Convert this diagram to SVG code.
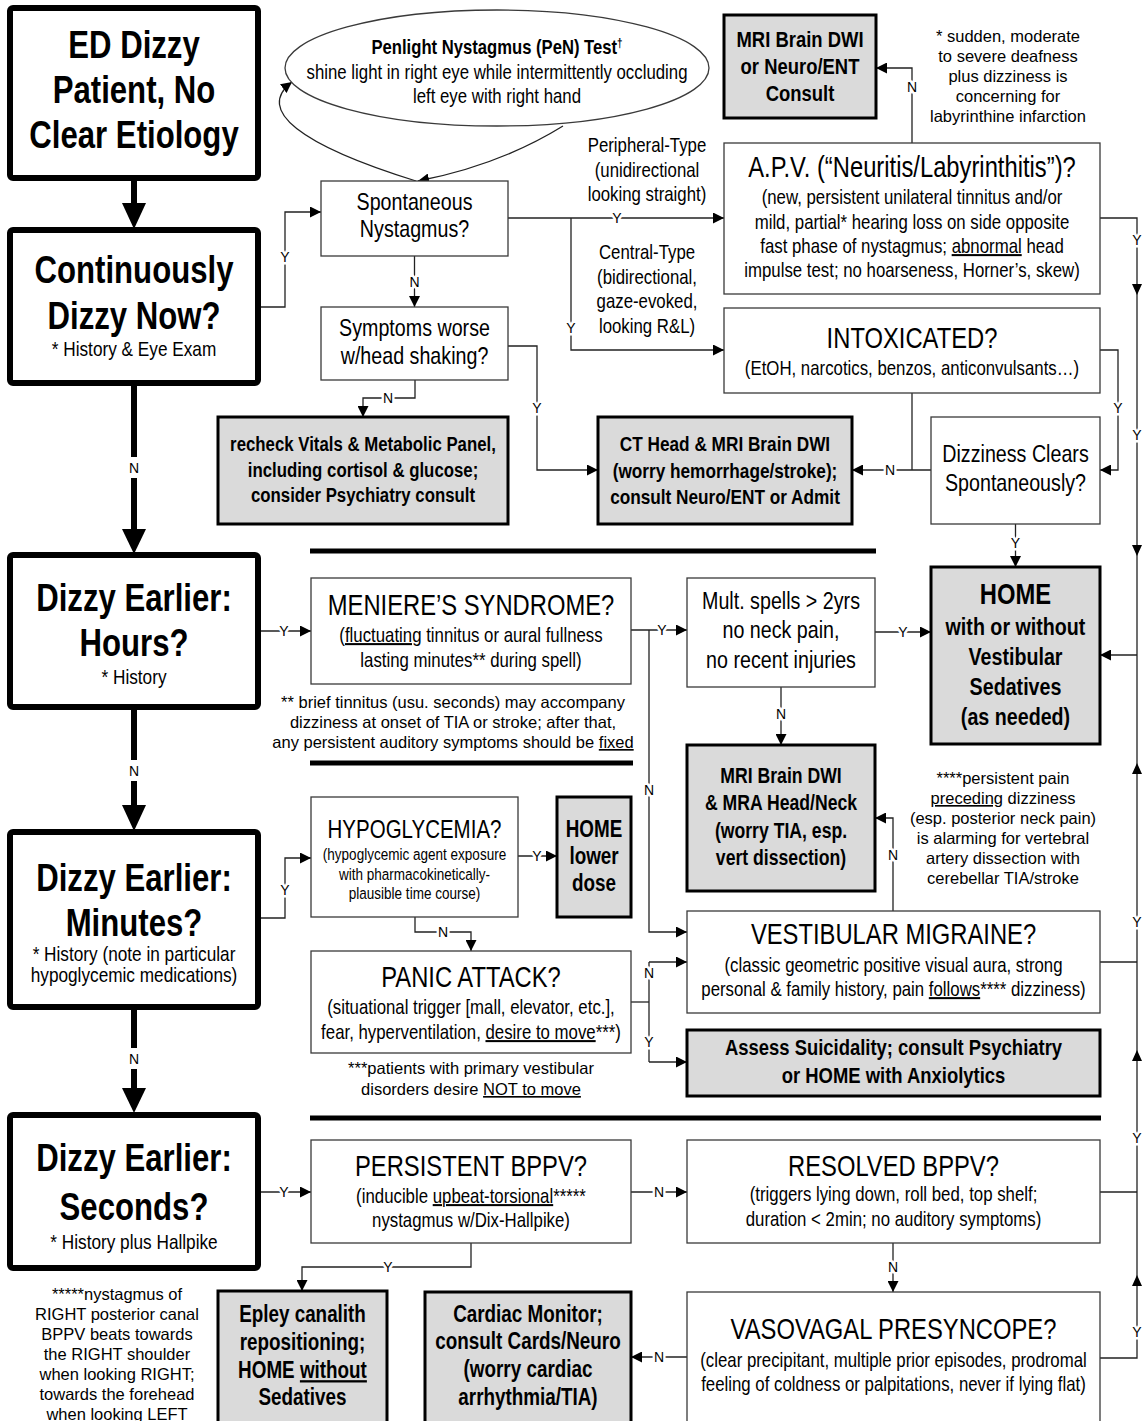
<svg xmlns="http://www.w3.org/2000/svg" width="1144" height="1421" viewBox="0 0 1144 1421">
<defs>
<style>
text{font-family:"Liberation Sans",Arial,sans-serif;text-anchor:middle;fill:#000}
.b{font-weight:bold}
.note{font-size:16.5px}
.big{font-size:38px;font-weight:bold}
.sub{font-size:21px}
.ttl{font-size:29px}
.body{font-size:20.5px}
.q{font-size:24px}
.lbl{font-size:14px;paint-order:stroke;stroke:#fff;stroke-width:5px;stroke-linejoin:round}
.thick{fill:#fff;stroke:#000;stroke-width:6}
.box{fill:#fff;stroke:#3a3a3a;stroke-width:1.3}
.gbox{fill:#dadada;stroke:#000;stroke-width:3}
.ln{fill:none;stroke:#222;stroke-width:1.3}
.ar{fill:none;stroke:#222;stroke-width:1.3;marker-end:url(#ah)}
.hr{stroke:#000;stroke-width:5}
.tk{stroke:#000;stroke-width:6}
</style>
<marker id="ah" viewBox="0 0 10 10" refX="10" refY="5" markerWidth="11" markerHeight="11" markerUnits="userSpaceOnUse" orient="auto"><path d="M0,0 L10,5 L0,10 z" fill="#000"/></marker>
</defs>
<rect width="1144" height="1421" fill="#fff"/>

<g id="dividers">
<line class="hr" x1="310" y1="551" x2="876" y2="551"/>
<line class="hr" x1="310" y1="763" x2="633" y2="763"/>
<line class="hr" x1="310" y1="1118" x2="1101" y2="1118"/>
</g>

<g id="connectors">
<line class="tk" x1="134" y1="178" x2="134" y2="206"/>
<polygon points="122,203 146,203 134,229"/>
<line class="tk" x1="134" y1="383" x2="134" y2="532"/>
<polygon points="122,529 146,529 134,554"/>
<rect x="125" y="457" width="18" height="21" fill="#fff"/>
<text class="lbl" x="134" y="473">N</text>
<line class="tk" x1="134" y1="707" x2="134" y2="808"/>
<polygon points="122,805 146,805 134,831"/>
<rect x="125" y="760" width="18" height="21" fill="#fff"/>
<text class="lbl" x="134" y="776">N</text>
<line class="tk" x1="134" y1="1007" x2="134" y2="1091"/>
<polygon points="122,1088 146,1088 134,1113"/>
<rect x="125" y="1048" width="18" height="21" fill="#fff"/>
<text class="lbl" x="134" y="1064">N</text>

<path class="ar" d="M416,181 C300,145 255,110 292,82"/>
<path class="ar" d="M563,126 Q500,165 418,181"/>

<path class="ar" d="M258,307 H285 V212 H321"/>
<text class="lbl" x="285" y="262">Y</text>
<path class="ar" d="M508,218 H724"/>
<text class="lbl" x="617" y="223">Y</text>
<path class="ar" d="M571,218 V350 H724"/>
<text class="lbl" x="571" y="333">Y</text>
<path class="ar" d="M414.5,256 V307"/>
<text class="lbl" x="414.5" y="287">N</text>
<path class="ar" d="M508,346 H537 V470 H598"/>
<text class="lbl" x="537" y="413">Y</text>
<path class="ar" d="M415,380 V398 H363 V417"/>
<text class="lbl" x="388" y="403">N</text>
<path class="ar" d="M912,143 V68 H876"/>
<text class="lbl" x="912" y="92">N</text>
<path class="ln" d="M912,393 V470"/>
<path class="ar" d="M931,470 H852"/>
<text class="lbl" x="890" y="475">N</text>
<path class="ar" d="M1100,350 H1118 V470 H1100"/>
<text class="lbl" x="1118" y="413">Y</text>
<path class="ar" d="M1015.5,524 V567"/>
<text class="lbl" x="1015.5" y="548">Y</text>
<path class="ln" d="M1100,218 H1137 V1358 H1100"/>
<path class="ln" d="M1100,962 H1137"/>
<path class="ln" d="M1100,1192 H1137"/>
<path class="ar" d="M1137,655 H1100"/>
<polygon points="1132,284 1142,284 1137,295"/>
<polygon points="1132,545 1142,545 1137,556"/>
<polygon points="1132,774 1142,774 1137,763"/>
<polygon points="1132,1061 1142,1061 1137,1050"/>
<polygon points="1132,1286 1142,1286 1137,1275"/>
<text class="lbl" x="1137" y="245">Y</text>
<text class="lbl" x="1137" y="440">Y</text>
<text class="lbl" x="1137" y="927">Y</text>
<text class="lbl" x="1137" y="1143">Y</text>
<text class="lbl" x="1137" y="1337">Y</text>
<path class="ar" d="M258,631 H311"/>
<text class="lbl" x="284" y="636">Y</text>
<path class="ar" d="M631,630 H687"/>
<text class="lbl" x="662" y="635">Y</text>
<path class="ar" d="M649,630 V932 H687"/>
<text class="lbl" x="649" y="795">N</text>
<path class="ar" d="M875,632 H931"/>
<text class="lbl" x="903" y="637">Y</text>
<path class="ar" d="M781,687 V745"/>
<text class="lbl" x="781" y="719">N</text>
<path class="ar" d="M893,911 V818 H875"/>
<text class="lbl" x="893" y="860">N</text>
<path class="ar" d="M258,918 H285 V858 H311"/>
<text class="lbl" x="285" y="895">Y</text>
<path class="ar" d="M518,856 H557"/>
<text class="lbl" x="537" y="861">Y</text>
<path class="ar" d="M415,917 V932 H471 V951"/>
<text class="lbl" x="443" y="937">N</text>
<path class="ln" d="M631,1002 H649"/>
<path class="ln" d="M649,962 V1062"/>
<path class="ar" d="M649,962 H687"/>
<path class="ar" d="M649,1062 H687"/>
<text class="lbl" x="649" y="978">N</text>
<text class="lbl" x="649" y="1047">Y</text>
<path class="ar" d="M258,1192 H311"/>
<text class="lbl" x="284" y="1197">Y</text>
<path class="ar" d="M631,1192 H687"/>
<text class="lbl" x="659" y="1197">N</text>
<path class="ar" d="M471,1243 V1267 H302 V1291"/>
<text class="lbl" x="388" y="1272">Y</text>
<path class="ar" d="M893,1243 V1292"/>
<text class="lbl" x="893" y="1272">N</text>
<path class="ar" d="M687,1357 H631"/>
<text class="lbl" x="659" y="1362">N</text>
</g>

<g id="n-start">
<rect class="thick" x="10" y="8" width="248" height="170" rx="3"/>
<g transform="translate(134 0) scale(.82 1)">
<text class="big" x="0" y="58">ED Dizzy</text>
<text class="big" x="0" y="103">Patient, No</text>
<text class="big" x="0" y="148">Clear Etiology</text>
</g></g>
<g id="n-continuous">
<rect class="thick" x="10" y="230" width="248" height="153" rx="3"/>
<g transform="translate(134 0) scale(.82 1)">
<text class="big" x="0" y="283">Continuously</text>
<text class="big" x="0" y="329">Dizzy Now?</text>
<text class="sub" x="0" y="356">* History &amp; Eye Exam</text>
</g></g>
<g id="n-hours">
<rect class="thick" x="10" y="555" width="248" height="152" rx="3"/>
<g transform="translate(134 0) scale(.82 1)">
<text class="big" x="0" y="611">Dizzy Earlier:</text>
<text class="big" x="0" y="656">Hours?</text>
<text class="sub" x="0" y="684">* History</text>
</g></g>
<g id="n-minutes">
<rect class="thick" x="10" y="832" width="248" height="175" rx="3"/>
<g transform="translate(134 0) scale(.82 1)">
<text class="big" x="0" y="891">Dizzy Earlier:</text>
<text class="big" x="0" y="936">Minutes?</text>
<text class="sub" x="0" y="961">* History (note in particular</text>
<text class="sub" x="0" y="982">hypoglycemic medications)</text>
</g></g>
<g id="n-seconds">
<rect class="thick" x="10" y="1115" width="248" height="153" rx="3"/>
<g transform="translate(134 0) scale(.82 1)">
<text class="big" x="0" y="1171">Dizzy Earlier:</text>
<text class="big" x="0" y="1220">Seconds?</text>
<text class="sub" x="0" y="1249">* History plus Hallpike</text>
</g></g>

<g id="n-pen">
<ellipse class="box" cx="497" cy="68" rx="212" ry="58"/>
<g transform="translate(497 0) scale(.82 1)">
<text class="b" x="0" y="54" font-size="20.3">Penlight Nystagmus (PeN) Test<tspan font-size="12" dy="-7">†</tspan></text>
<text class="body" x="0" y="79">shine light in right eye while intermittently occluding</text>
<text class="body" x="0" y="103">left eye with right hand</text>
</g></g>

<g id="n-spont">
<rect class="box" x="321" y="181" width="187" height="75"/>
<g transform="translate(414.5 0) scale(.82 1)">
<text class="q" x="0" y="210">Spontaneous</text>
<text class="q" x="0" y="237">Nystagmus?</text>
</g></g>

<g id="n-types">
<g transform="translate(647 0) scale(.82 1)">
<text class="body" x="0" y="152">Peripheral-Type</text>
<text class="body" x="0" y="177">(unidirectional</text>
<text class="body" x="0" y="201">looking straight)</text>
<text class="body" x="0" y="259">Central-Type</text>
<text class="body" x="0" y="284">(bidirectional,</text>
<text class="body" x="0" y="308">gaze-evoked,</text>
<text class="body" x="0" y="333">looking R&amp;L)</text>
</g></g>

<g id="n-mri1">
<rect class="gbox" x="724" y="15" width="152" height="103"/>
<g transform="translate(800 0) scale(.82 1)">
<text class="b" x="0" y="47" font-size="22.5">MRI Brain DWI</text>
<text class="b" x="0" y="74" font-size="22.5">or Neuro/ENT</text>
<text class="b" x="0" y="101" font-size="22.5">Consult</text>
</g></g>

<g id="note-deaf">
<text class="note" x="1008" y="42">* sudden, moderate</text>
<text class="note" x="1008" y="62">to severe deafness</text>
<text class="note" x="1008" y="82">plus dizziness is</text>
<text class="note" x="1008" y="102">concerning for</text>
<text class="note" x="1008" y="122">labyrinthine infarction</text>
</g>

<g id="n-apv">
<rect class="box" x="724" y="143" width="376" height="151"/>
<g transform="translate(912 0) scale(.82 1)">
<text class="ttl" x="0" y="177">A.P.V. (“Neuritis/Labyrinthitis”)?</text>
<text class="body" x="0" y="204">(new, persistent unilateral tinnitus and/or</text>
<text class="body" x="0" y="229">mild, partial* hearing loss on side opposite</text>
<text class="body" x="0" y="253">fast phase of nystagmus; <tspan text-decoration="underline">abnormal</tspan> head</text>
<text class="body" x="0" y="277">impulse test; no hoarseness, Horner’s, skew)</text>
</g></g>

<g id="n-intox">
<rect class="box" x="724" y="308" width="376" height="85"/>
<g transform="translate(912 0) scale(.82 1)">
<text class="ttl" x="0" y="348">INTOXICATED?</text>
<text class="body" x="0" y="375">(EtOH, narcotics, benzos, anticonvulsants…)</text>
</g></g>

<g id="n-symptoms">
<rect class="box" x="321" y="307" width="187" height="73"/>
<g transform="translate(414.5 0) scale(.82 1)">
<text class="q" x="0" y="336">Symptoms worse</text>
<text class="q" x="0" y="364">w/head shaking?</text>
</g></g>

<g id="n-recheck">
<rect class="gbox" x="218" y="417" width="290" height="107"/>
<g transform="translate(363 0) scale(.82 1)">
<text class="b" x="0" y="451" font-size="20.5">recheck Vitals &amp; Metabolic Panel,</text>
<text class="b" x="0" y="477" font-size="20.5">including cortisol &amp; glucose;</text>
<text class="b" x="0" y="502" font-size="20.5">consider Psychiatry consult</text>
</g></g>

<g id="n-ct">
<rect class="gbox" x="598" y="417" width="254" height="107"/>
<g transform="translate(725 0) scale(.82 1)">
<text class="b" x="0" y="451" font-size="21">CT Head &amp; MRI Brain DWI</text>
<text class="b" x="0" y="478" font-size="21">(worry hemorrhage/stroke);</text>
<text class="b" x="0" y="504" font-size="21">consult Neuro/ENT or Admit</text>
</g></g>

<g id="n-clears">
<rect class="box" x="931" y="417" width="169" height="107"/>
<g transform="translate(1015.5 0) scale(.82 1)">
<text class="q" x="0" y="462">Dizziness Clears</text>
<text class="q" x="0" y="491">Spontaneously?</text>
</g></g>

<g id="n-meniere">
<rect class="box" x="311" y="578" width="320" height="106"/>
<g transform="translate(471 0) scale(.82 1)">
<text class="ttl" x="0" y="615">MENIERE’S SYNDROME?</text>
<text class="body" x="0" y="642">(<tspan text-decoration="underline">fluctuating</tspan> tinnitus or aural fullness</text>
<text class="body" x="0" y="667">lasting minutes** during spell)</text>
</g></g>

<g id="note-tinnitus">
<text class="note" x="453" y="708">** brief tinnitus (usu. seconds) may accompany</text>
<text class="note" x="453" y="728">dizziness at onset of TIA or stroke; after that,</text>
<text class="note" x="453" y="748">any persistent auditory symptoms should be <tspan text-decoration="underline">fixed</tspan></text>
</g>

<g id="n-mult">
<rect class="box" x="687" y="578" width="188" height="109"/>
<g transform="translate(781 0) scale(.82 1)">
<text class="q" x="0" y="609">Mult. spells &gt; 2yrs</text>
<text class="q" x="0" y="638">no neck pain,</text>
<text class="q" x="0" y="668">no recent injuries</text>
</g></g>

<g id="n-home">
<rect class="gbox" x="931" y="567" width="169" height="177"/>
<g transform="translate(1015.5 0) scale(.82 1)">
<text class="b" x="0" y="604" font-size="29">HOME</text>
<text class="b" x="0" y="635" font-size="24">with or without</text>
<text class="b" x="0" y="665" font-size="24">Vestibular</text>
<text class="b" x="0" y="695" font-size="24">Sedatives</text>
<text class="b" x="0" y="725" font-size="24">(as needed)</text>
</g></g>

<g id="n-mri2">
<rect class="gbox" x="687" y="745" width="188" height="146"/>
<g transform="translate(781 0) scale(.82 1)">
<text class="b" x="0" y="783" font-size="21.5">MRI Brain DWI</text>
<text class="b" x="0" y="810" font-size="21.5">&amp; MRA Head/Neck</text>
<text class="b" x="0" y="838" font-size="21.5">(worry TIA, esp.</text>
<text class="b" x="0" y="865" font-size="21.5">vert dissection)</text>
</g></g>

<g id="note-pain">
<text class="note" x="1003" y="784">****persistent pain</text>
<text class="note" x="1003" y="804"><tspan text-decoration="underline">preceding</tspan> dizziness</text>
<text class="note" x="1003" y="824">(esp. posterior neck pain)</text>
<text class="note" x="1003" y="844">is alarming for vertebral</text>
<text class="note" x="1003" y="864">artery dissection with</text>
<text class="note" x="1003" y="884">cerebellar TIA/stroke</text>
</g>

<g id="n-hypo">
<rect class="box" x="311" y="797" width="207" height="120"/>
<g transform="translate(414.5 0) scale(.82 1)">
<text x="0" y="838" font-size="25">HYPOGLYCEMIA?</text>
<text x="0" y="860" font-size="16.5">(hypoglycemic agent exposure</text>
<text x="0" y="880" font-size="16.5">with pharmacokinetically-</text>
<text x="0" y="899" font-size="16.5">plausible time course)</text>
</g></g>

<g id="n-homedose">
<rect class="gbox" x="557" y="797" width="74" height="120"/>
<g transform="translate(594 0) scale(.82 1)">
<text class="b" x="0" y="837" font-size="23">HOME</text>
<text class="b" x="0" y="864" font-size="23">lower</text>
<text class="b" x="0" y="891" font-size="23">dose</text>
</g></g>

<g id="n-panic">
<rect class="box" x="311" y="951" width="320" height="102"/>
<g transform="translate(471 0) scale(.82 1)">
<text class="ttl" x="0" y="987">PANIC ATTACK?</text>
<text class="body" x="0" y="1014">(situational trigger [mall, elevator, etc.],</text>
<text class="body" x="0" y="1039">fear, hyperventilation, <tspan text-decoration="underline">desire to move</tspan>***)</text>
</g></g>

<g id="note-move">
<text class="note" x="471" y="1074">***patients with primary vestibular</text>
<text class="note" x="471" y="1095">disorders desire <tspan text-decoration="underline">NOT to move</tspan></text>
</g>

<g id="n-vm">
<rect class="box" x="687" y="911" width="413" height="102"/>
<g transform="translate(893.5 0) scale(.82 1)">
<text class="ttl" x="0" y="944">VESTIBULAR MIGRAINE?</text>
<text class="body" x="0" y="972">(classic geometric positive visual aura, strong</text>
<text class="body" x="0" y="996">personal &amp; family history, pain <tspan text-decoration="underline">follows</tspan>**** dizziness)</text>
</g></g>

<g id="n-assess">
<rect class="gbox" x="687" y="1030" width="413" height="66"/>
<g transform="translate(893.5 0) scale(.82 1)">
<text class="b" x="0" y="1055" font-size="22.5">Assess Suicidality; consult Psychiatry</text>
<text class="b" x="0" y="1083" font-size="22.5">or HOME with Anxiolytics</text>
</g></g>

<g id="n-persistent">
<rect class="box" x="311" y="1140" width="320" height="103"/>
<g transform="translate(471 0) scale(.82 1)">
<text class="ttl" x="0" y="1176">PERSISTENT BPPV?</text>
<text class="body" x="0" y="1203">(inducible <tspan text-decoration="underline">upbeat-torsional</tspan>*****</text>
<text class="body" x="0" y="1227">nystagmus w/Dix-Hallpike)</text>
</g></g>

<g id="n-resolved">
<rect class="box" x="687" y="1140" width="413" height="103"/>
<g transform="translate(893.5 0) scale(.82 1)">
<text class="ttl" x="0" y="1176">RESOLVED BPPV?</text>
<text class="body" x="0" y="1201">(triggers lying down, roll bed, top shelf;</text>
<text class="body" x="0" y="1226">duration &lt; 2min; no auditory symptoms)</text>
</g></g>

<g id="note-bppv">
<text class="note" x="117" y="1300">*****nystagmus of</text>
<text class="note" x="117" y="1320">RIGHT posterior canal</text>
<text class="note" x="117" y="1340">BPPV beats towards</text>
<text class="note" x="117" y="1360">the RIGHT shoulder</text>
<text class="note" x="117" y="1380">when looking RIGHT;</text>
<text class="note" x="117" y="1400">towards the forehead</text>
<text class="note" x="117" y="1420">when looking LEFT</text>
</g>

<g id="n-epley">
<rect class="gbox" x="218" y="1291" width="169" height="140"/>
<g transform="translate(302.5 0) scale(.82 1)">
<text class="b" x="0" y="1322" font-size="23">Epley canalith</text>
<text class="b" x="0" y="1350" font-size="23">repositioning;</text>
<text class="b" x="0" y="1378" font-size="23">HOME <tspan text-decoration="underline">without</tspan></text>
<text class="b" x="0" y="1405" font-size="23">Sedatives</text>
</g></g>

<g id="n-cardiac">
<rect class="gbox" x="425" y="1292" width="206" height="140"/>
<g transform="translate(528 0) scale(.82 1)">
<text class="b" x="0" y="1322" font-size="23">Cardiac Monitor;</text>
<text class="b" x="0" y="1349" font-size="23">consult Cards/Neuro</text>
<text class="b" x="0" y="1377" font-size="23">(worry cardiac</text>
<text class="b" x="0" y="1405" font-size="23">arrhythmia/TIA)</text>
</g></g>

<g id="n-vasovagal">
<rect class="box" x="687" y="1292" width="413" height="140"/>
<g transform="translate(893.5 0) scale(.82 1)">
<text class="ttl" x="0" y="1339">VASOVAGAL PRESYNCOPE?</text>
<text class="body" x="0" y="1367">(clear precipitant, multiple prior episodes, prodromal</text>
<text class="body" x="0" y="1391">feeling of coldness or palpitations, never if lying flat)</text>
</g></g>
</svg>
